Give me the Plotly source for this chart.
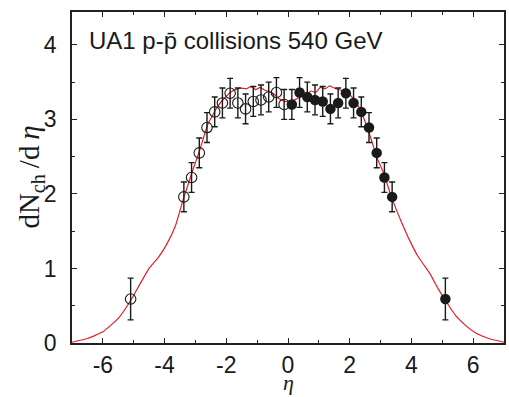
import plotly.graph_objects as go

# Data points (positive eta side measured; negative side is reflection)
eta_pts = [0.125, 0.375, 0.625, 0.875, 1.125, 1.375, 1.625, 1.875,
           2.125, 2.375, 2.625, 2.875, 3.125, 3.375, 5.1]
dn_pts = [3.20, 3.36, 3.30, 3.26, 3.24, 3.14, 3.22, 3.35,
          3.22, 3.10, 2.89, 2.55, 2.22, 1.96, 0.59]
err_pts = [0.2, 0.2, 0.2, 0.2, 0.2, 0.2, 0.2, 0.2,
           0.2, 0.2, 0.2, 0.2, 0.2, 0.2, 0.28]

# Model curve
eta_curve = [-7.0, -6.5, -6.0, -5.5, -5.1, -4.8, -4.5, -4.2, -3.95, -3.65, -3.4,
             -3.1, -2.85, -2.6, -2.3, -2.05, -1.8, -1.55, -1.35, -1.2, -1.05,
             -0.9, -0.75, -0.6, -0.45, -0.3, -0.1, 0.1, 0.3, 0.55, 0.75, 0.9,
             1.05, 1.2, 1.35, 1.55, 1.8, 2.0, 2.2, 2.45, 2.65, 2.9, 3.1, 3.35,
             3.7, 3.95, 4.2, 4.4, 4.6, 4.85, 5.15, 5.45, 5.8, 6.1, 6.5, 7.0]
dn_curve = [0.01, 0.06, 0.15, 0.33, 0.57, 0.79, 1.00, 1.15, 1.31, 1.57, 1.92,
            2.30, 2.60, 2.93, 3.16, 3.29, 3.38, 3.42, 3.41, 3.44, 3.40,
            3.43, 3.39, 3.37, 3.34, 3.28, 3.24, 3.24, 3.28, 3.33, 3.38, 3.36,
            3.43, 3.41, 3.45, 3.41, 3.38, 3.33, 3.23, 3.02, 2.79, 2.47, 2.28, 1.96,
            1.60, 1.37, 1.17, 1.05, 0.93, 0.74, 0.54, 0.36, 0.22, 0.13, 0.06, 0.01]

x_ticks = [-6, -4, -2, 0, 2, 4, 6]
x_labels = ["-6", "-4", "-2", "0", "2", "4", "6"]
y_ticks = [0, 1, 2, 3, 4]
y_labels = ["0", "1", "2", "3", "4"]

fig = go.Figure()

fig.add_trace(go.Scatter(
    x=eta_curve, y=dn_curve, mode="lines",
    line=dict(color="#e41e26", width=1.2, shape="spline", smoothing=0.4),
    showlegend=False, hoverinfo="skip"))

errbar = dict(type="data", visible=True, color="#1a1a1a", thickness=1.4, width=3)

fig.add_trace(go.Scatter(
    x=[-e for e in eta_pts], y=dn_pts, mode="markers",
    error_y=dict(array=err_pts, **errbar),
    marker=dict(symbol="circle-open", size=10.5, color="#1a1a1a",
                line=dict(width=1.1, color="#1a1a1a")),
    showlegend=False))

fig.add_trace(go.Scatter(
    x=eta_pts, y=dn_pts, mode="markers",
    error_y=dict(array=err_pts, **errbar),
    marker=dict(symbol="circle", size=10.5, color="#1a1a1a",
                line=dict(width=0)),
    showlegend=False))

axis_common = dict(
    showline=True, linecolor="#222", linewidth=1.5, mirror="allticks",
    ticks="inside", ticklen=5, tickwidth=1.2, tickcolor="#222",
    showgrid=False, zeroline=False, automargin=False,
    tickfont=dict(family="Liberation Sans, Arial", size=23, color="#1a1a1a"),
)

fig.update_xaxes(range=[-7, 7], tickvals=x_ticks, ticktext=x_labels,
                 ticklabelstandoff=1,
                 minor=dict(dtick=1, ticks="inside", ticklen=3, tickcolor="#222", tickwidth=1),
                 **axis_common)
fig.update_yaxes(range=[0, 4.44], tickvals=y_ticks, ticktext=y_labels,
                 ticklabelstandoff=9,
                 minor=dict(dtick=0.5, ticks="inside", ticklen=3, tickcolor="#222", tickwidth=1),
                 **axis_common)

serif = "Liberation Serif, Times New Roman"
fig.add_annotation(x=0.5, y=-0.163, xref="paper", yref="paper",
                   xanchor="center", yanchor="bottom", showarrow=False,
                   text="<i>η</i>",
                   font=dict(family=serif, size=22, color="#1a1a1a"))
fig.add_annotation(x=-0.097, y=0.5, xref="paper", yref="paper",
                   xanchor="center", yanchor="middle", showarrow=False,
                   textangle=-90,
                   text="dN<sub>ch</sub>\u2009/d\u2009<i>η</i>",
                   font=dict(family=serif, size=29, color="#1a1a1a"))

fig.add_annotation(x=0.035, y=0.96, xref="paper", yref="paper",
                   xanchor="left", yanchor="top", showarrow=False,
                   text="UA1 p-p\u0304 collisions 540 GeV",
                   font=dict(family="Liberation Sans, Arial", size=24, color="#1a1a1a"))

fig.update_layout(width=509, height=397,
                  margin=dict(l=72, r=5, t=12, b=54),
                  paper_bgcolor="white", plot_bgcolor="white")

fig.write_html("out.html")
